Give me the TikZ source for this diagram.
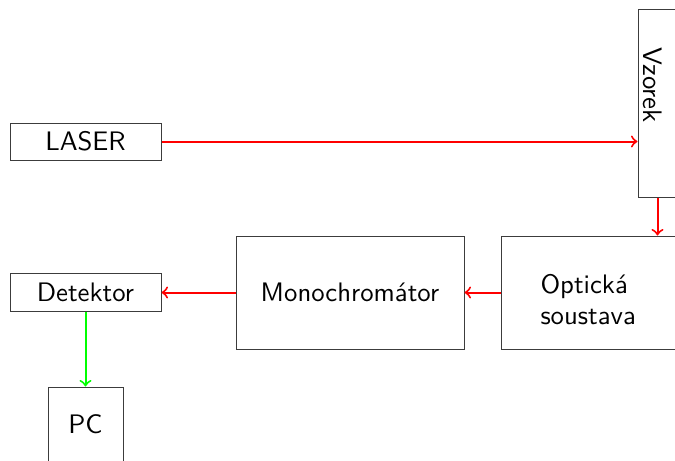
\documentclass[tikz,border=0pt]{standalone}
\usepackage{tikz}
\definecolor{lred}{RGB}{255,0,0}
\definecolor{lgreen}{RGB}{0,255,0}
\definecolor{bgray}{RGB}{60,60,60}
\begin{document}
\begin{tikzpicture}[x=0.4pt,y=-0.4pt,
  txt/.style={font=\sffamily\fontsize{10.7}{12.4}\selectfont},
  box/.style={draw=bgray,line width=0.4pt,inner sep=0pt,txt},
  redarrow/.style={draw=lred,line width=0.8pt,-to},
  greenarrow/.style={draw=lgreen,line width=0.8pt,-to}]
\fill[white] (0,0) rectangle (675,461);
\useasboundingbox (0,0) rectangle (675,461);
\node[box,minimum width=151*0.4pt,minimum height=37*0.4pt] (laser) at (85.5,141.5) {LASER};
\node[box,minimum width=39*0.4pt,minimum height=188*0.4pt] (vzorek) at (657.5,103) {};
\node[txt,rotate=-90] (vzt) at (653,85) {Vzorek};
\node[box,minimum width=200*0.4pt,minimum height=113*0.4pt] (opt) at (601,292.5) {};
\node[txt,align=left,anchor=west,inner sep=0pt] (optt) at (540,300) {Optická\\soustava};
\node[box,minimum width=228*0.4pt,minimum height=113*0.4pt] (mono) at (350,292.5) {Monochromátor};
\node[box,minimum width=151*0.4pt,minimum height=38*0.4pt] (det) at (85.5,292.5) {Detektor};
\node[box,minimum width=75*0.4pt,minimum height=75*0.4pt] (pc) at (85.5,424.5) {PC};
\draw[redarrow] (laser.east) -- (laser.east -| vzorek.west);
\draw[redarrow] (vzorek.south) -- (opt.north -| vzorek.south);
\draw[redarrow] (opt.west) -- (mono.east);
\draw[redarrow] (mono.west) -- (det.east);
\draw[greenarrow] (det.south) -- (pc.north);
\end{tikzpicture}
\end{document}
